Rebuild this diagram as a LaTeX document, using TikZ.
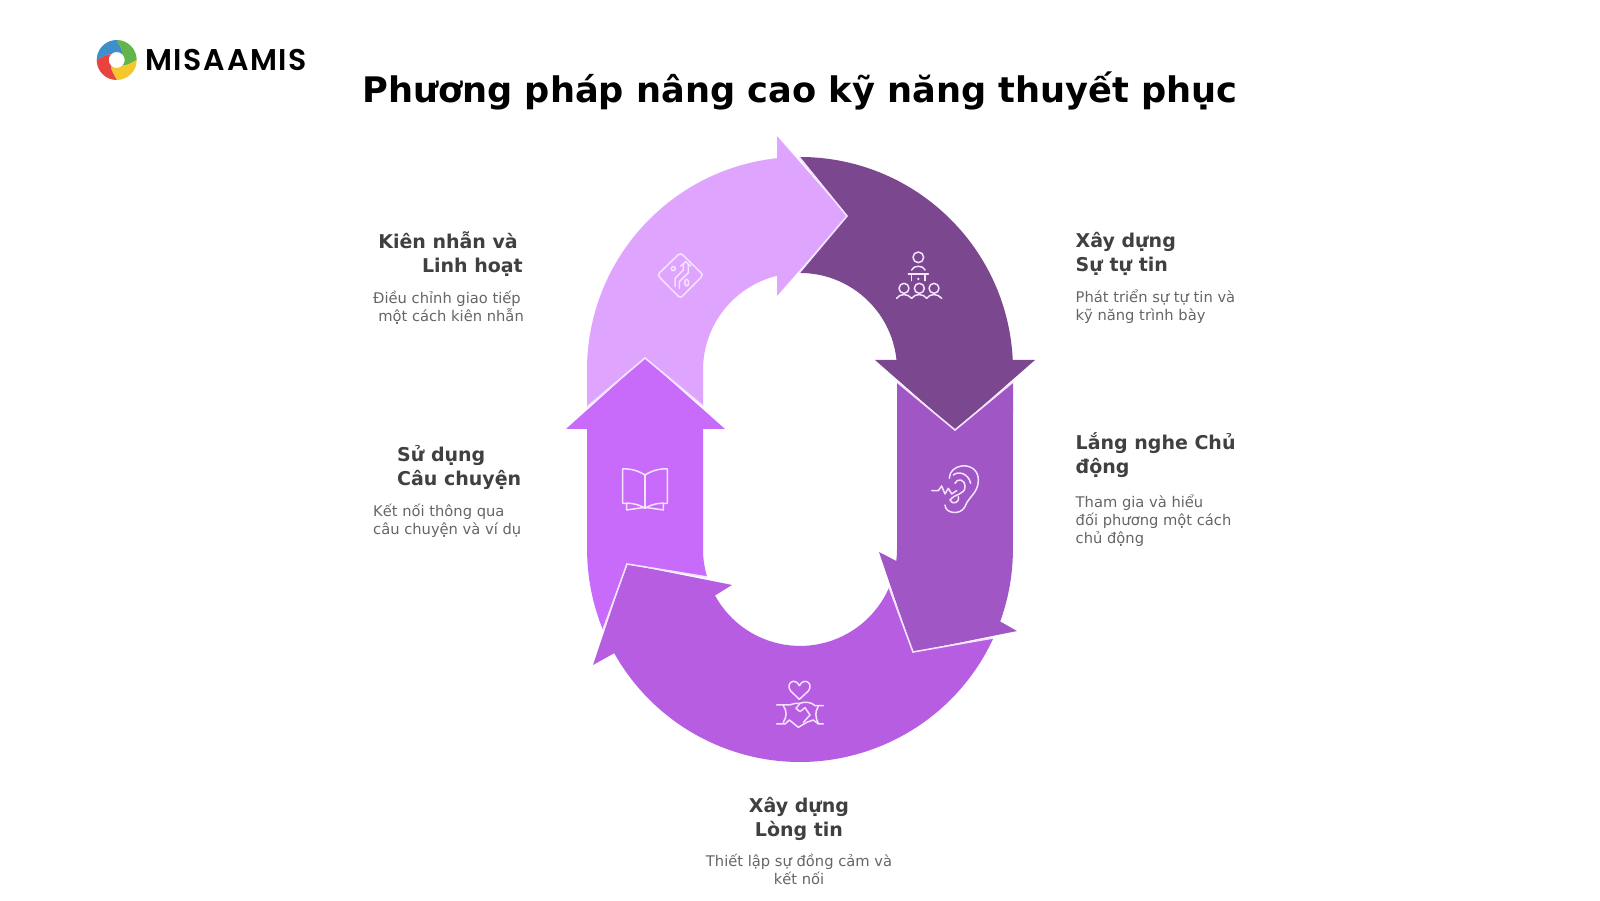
\documentclass[tikz,border=0pt]{standalone}
\usepackage{fontspec}
\setmainfont{DejaVu Sans}
\newfontfamily\logofont[LetterSpace=5,WordSpace=0.3]{Poppins SemiBold}
\definecolor{cLight}{HTML}{DFA5FE}
\definecolor{cDark}{HTML}{7B478F}
\definecolor{cEar}{HTML}{A056C5}
\definecolor{cBottom}{HTML}{B65DE2}
\definecolor{cBook}{HTML}{C86AFA}
\definecolor{cSep}{HTML}{F5E3FF}
\definecolor{cHead}{HTML}{404040}
\definecolor{cBody}{HTML}{666666}
\definecolor{logoBlue}{HTML}{3F8FCB}
\definecolor{logoGreen}{HTML}{62B44B}
\definecolor{logoYellow}{HTML}{F5C72E}
\definecolor{logoRed}{HTML}{E8433F}
\tikzset{
  sepline/.style={draw=cSep,line width=1.6pt,line join=miter},
  iconline/.style={draw=cSep,line width=1.5pt,line cap=round,line join=round,fill=none},
  headtext/.style={inner sep=0pt,text=cHead,font=\fontsize{19}{24}\selectfont\bfseries},
  bodytext/.style={inner sep=0pt,text=cBody,font=\fontsize{14.7}{18}\selectfont},
}
\begin{document}
\begin{tikzpicture}[x=1pt,y=1pt]
\useasboundingbox (0,0) rectangle (1600,900);
\fill[white] (0,0) rectangle (1600,900);
% ---- segments
\fill[cLight] (587,493) -- (645,542) -- (703,494) -- (703,530)
  arc[start angle=180,end angle=103.7,radius=97pt] -- (777,604) -- (847,684) -- (777,764) -- (777,741.8)
  arc[start angle=96.2,end angle=180,radius=213pt] -- cycle;
\fill[cDark] (800,743) arc[start angle=90,end angle=2.7,radius=213pt] -- (1035,540) -- (955,470) -- (875,540) -- (896.5,540)
  arc[start angle=5.9,end angle=90,radius=97pt] -- (847,684) -- cycle;
\fill[cEar] (897,518) -- (897,351) arc[start angle=0,end angle=-7.1,radius=97pt] -- (879,348) -- (913,248) -- (1017,269) -- (1000.2,278.5)
  arc[start angle=-19.9,end angle=0,radius=213pt] -- (1013,518) -- (955,470) -- cycle;
\fill[cBottom] (993.3,261.7) arc[start angle=-24.8,end angle=-150.7,radius=213pt] -- (593,235) -- (627,336) -- (732,315) -- (715,304.5)
  arc[start angle=-151.3,end angle=-23.1,radius=97pt] -- (913,248) -- cycle;
\fill[cBook] (566,471) -- (645,542) -- (725,471) -- (703,471) -- (703,351)
  arc[start angle=180,end angle=196.8,radius=97pt] -- (627,336) -- (603,270)
  arc[start angle=202.3,end angle=180,radius=213pt] -- (587,471) -- cycle;
% ---- separators
\draw[sepline] (799,743) -- (847,684) -- (799,627);
\draw[sepline] (587,493) -- (645,542) -- (703,494);
\draw[sepline] (897,518) -- (955,470) -- (1013,518);
\draw[sepline] (993,262) -- (913,248) -- (889,313);
\draw[sepline] (603,270) -- (627,336) -- (707,323);
% ---- icon: diamond (crop coordinates, 3 units per px)
\begin{scope}[shift={(620,680)},x=0.3333pt,y=-0.3333pt]
  \draw[iconline,rounded corners=3pt] (181,98) -- (250,165) -- (181,235) -- (112,165) -- cycle;
  \draw[iconline] (165,200) -- (165,175) -- (190,150) -- (190,132);
  \draw[iconline] (178,205) -- (178,185) -- (205,158) -- (205,132);
  \draw[iconline] (182,138) -- (197,125) -- (212,138);
  \draw[iconline] (160,146) circle[radius=6];
  \draw[iconline] (200,188) ellipse[x radius=6,y radius=10];
\end{scope}
% ---- icon: presenter
\begin{scope}[shift={(870,670)},x=0.3333pt,y=-0.3333pt]
  \draw[iconline] (145,82) circle[radius=16];
  \draw[iconline] (125,120) .. controls (130,105) and (160,105) .. (165,120);
  \draw[iconline] (115,132) -- (175,132);
  \draw[iconline] (125,132) -- (125,152);
  \draw[iconline] (165,132) -- (165,152);
  \fill[cSep] (145,147) circle[radius=4];
  \draw[iconline] (102,175) circle[radius=15];
  \draw[iconline] (148,175) circle[radius=15];
  \draw[iconline] (192,175) circle[radius=15];
  \draw[iconline] (80,205) .. controls (90,190) and (112,190) .. (125,205) .. controls (135,190) and (160,190) .. (170,205) .. controls (180,190) and (203,190) .. (215,205);
\end{scope}
% ---- icon: ear
\begin{scope}[shift={(900,450)},x=0.3333pt,y=-0.3333pt]
  \draw[iconline] (135,165) .. controls (135,190) and (180,198) .. (195,170) .. controls (205,140) and (235,130) .. (235,90) .. controls (235,55) and (205,45) .. (185,48) .. controls (165,50) and (148,65) .. (148,85);
  \draw[iconline] (160,75) .. controls (175,62) and (205,70) .. (212,100);
  \draw[iconline] (165,100) .. controls (170,85) and (195,85) .. (195,110) .. controls (195,135) and (165,130) .. (150,150) .. controls (155,165) and (180,160) .. (175,140);
  \draw[iconline] (95,122) -- (115,122) -- (125,108) -- (135,132) -- (145,115) -- (155,132) -- (170,122);
\end{scope}
% ---- icon: handshake
\begin{scope}[shift={(750,235)},x=0.3333pt,y=-0.3333pt]
  \draw[iconline] (148,103) -- (122,78) .. controls (105,55) and (135,35) .. (148,62) .. controls (162,35) and (192,55) .. (175,78) -- cycle;
  \draw[iconline] (80,120) -- (110,120) .. controls (125,122) and (130,112) .. (150,115) .. controls (165,108) and (185,112) .. (195,122) -- (220,122);
  \draw[iconline] (100,122) .. controls (112,140) and (110,155) .. (100,172);
  \draw[iconline] (205,124) .. controls (195,140) and (195,155) .. (205,175);
  \draw[iconline] (80,177) -- (105,177) -- (118,165) -- (145,187) -- (170,172) -- (190,165) -- (205,177) -- (220,177);
  \draw[iconline] (150,115) -- (138,130) -- (150,140) -- (165,128) -- (180,150) -- (160,172);
\end{scope}
% ---- icon: book
\begin{scope}[shift={(600,450)},x=0.3333pt,y=-0.3333pt]
  \draw[iconline] (135,75) .. controls (115,62) and (90,55) .. (68,57) -- (68,160) .. controls (90,158) and (115,162) .. (135,175);
  \draw[iconline] (135,75) .. controls (155,62) and (180,55) .. (202,57) -- (202,160) .. controls (180,158) and (155,162) .. (135,175);
  \draw[iconline] (135,75) -- (135,175);
  \draw[iconline] (80,160) -- (80,180) -- (135,172) -- (190,180) -- (190,160);
\end{scope}
% ---- logo
\begin{scope}[shift={(116.7,840)}]
  \foreach \rot/\col in {0/logoBlue,-90/logoGreen,-180/logoYellow,-270/logoRed}{
    \fill[\col,rotate=\rot] (180:20) arc[start angle=180,end angle=90,radius=20pt]
      .. controls (80:15) and (60:12) .. (45:8) arc[start angle=45,end angle=135,radius=8pt]
      .. controls (150:12) and (170:15) .. cycle;
  }
\end{scope}
\node[inner sep=0pt,anchor=base west,text=black,font=\logofont\fontsize{30}{30}\selectfont] (logo) at (145,829) {MISA AMIS};
% ---- title
\node[inner sep=0pt,anchor=base,text=black,font=\bfseries\fontsize{35.2}{40}\selectfont] (title) at (800,797) {Phương pháp nâng cao kỹ năng thuyết phục};
% ---- labels
\node[headtext,align=right,anchor=north east] (h1) at (523,669) {Kiên nhẫn và\kern5pt\\Linh hoạt};
\node[bodytext,align=right,anchor=north east] (b1) at (524,609) {Điều chỉnh giao tiếp\kern3pt\\một cách kiên nhẫn};
\node[headtext,align=left,anchor=north west] (h2) at (397,455) {Sử dụng\\Câu chuyện};
\node[bodytext,align=left,anchor=north west] (b2) at (373,396) {Kết nối thông qua\\câu chuyện và ví dụ};
\node[headtext,align=left,anchor=north west] (h3) at (1075.5,668) {Xây dựng\\Sự tự tin};
\node[bodytext,align=left,anchor=north west] (b3) at (1075.5,610) {Phát triển sự tự tin và\\kỹ năng trình bày};
\node[headtext,align=left,anchor=north west] (h4) at (1075.5,467.5) {Lắng nghe Chủ\\động};
\node[bodytext,align=left,anchor=north west] (b4) at (1075.5,405) {Tham gia và hiểu\\đối phương một cách\\chủ động};
\node[headtext,align=center,anchor=north] (h5) at (799,103) {Xây dựng\\Lòng tin};
\node[bodytext,align=center,anchor=north] (b5) at (799,46) {Thiết lập sự đồng cảm và\\kết nối};
\end{tikzpicture}
\end{document}
